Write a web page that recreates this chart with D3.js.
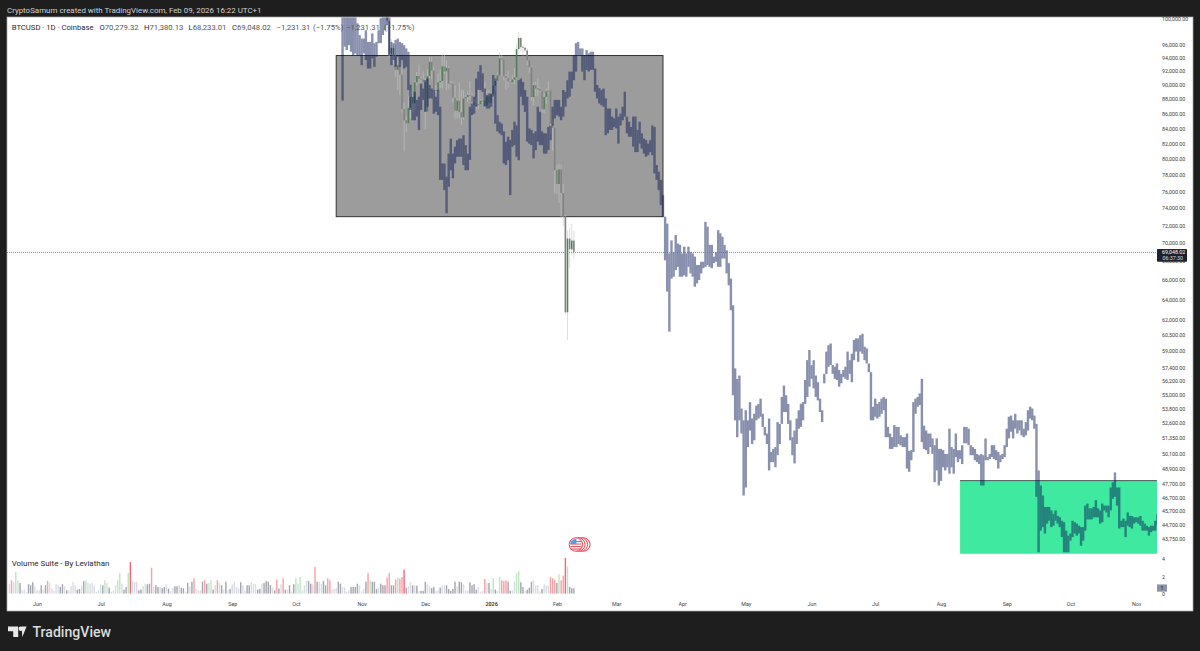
<!DOCTYPE html>
<html>
<head>
<meta charset="utf-8">
<script src="https://cdn.jsdelivr.net/npm/d3@7"></script>
<style>
html, body { margin: 0; padding: 0; background: #1e1e1e; }
text { font-family: Roboto, "Liberation Sans", sans-serif; }
</style>
</head>
<body>
<script>
// Price values are in thousands of USD
var patternStart = "2025-10-23";
var patternHigh = [
100.4,100.4,100.4,100.4,100.4,100.4,100.4,99.3,97.45,96.9,96.9,98.2,96.4,96.4,97.7,96.2,96.4,98.2,100.1,100.35,
100.35,100.35,100.35,96.4,96.2,96.7,96.9,96.4,96.2,95.9,95.4,94.9,90.05,88.35,89.05,87.9,88.35,90.2,89.5,90.7,
90.95,90,89.5,89.3,88.35,89.3,86.95,79.45,79.45,77.8,80.7,82.65,80.7,81.6,82.45,82.65,82.65,83.1,81.8,80.7,
86.95,87.4,88.35,90.95,91.95,92.9,91.7,89.5,88.6,88.8,88.8,91.45,90.95,85.8,84.9,84.65,83.6,82.25,82.9,82.45,
83.8,84.9,84.4,90.7,90.95,90.45,89.3,88.35,84,83.8,83.35,83.6,86.95,86.25,83.6,83.35,83.35,84.2,84.4,86.95,
87.9,87.9,87.9,86.95,89.3,89.05,90.7,91.95,91.95,94.4,96.2,96.4,95.4,95.4,94.4,95.15,94.65,94.9,94.9,92.4,
90,89.55,89.3,89.5,88.1,86.7,86.7,85.6,85.35,86.7,85.6,86,86.95,89.05,85.6,84.9,84.2,85.6,85.6,83.8,
84.9,83.35,82.65,82.45,82,82.45,84.4,84.2,79.25,78.4,77.4,75.55,
73,72.2,68.85,70.3,69,70.9,69.95,69.8,68.85,69.6,68.85,69.6,69,68.85,68.5,67.6,67.6,67.95,
67.95,72.4,71.85,69.8,69.8,68.5,69,71.45,71.1,70.7,69.8,69.2,67.8,66.15,63.4,57.35,56.4,56.7,53.8,52.8,
53.65,52.8,54.35,52.95,53.35,54.05,54.2,54.65,53.35,52.25,51.7,52.95,50.2,50.45,50.6,52.65,52.5,54.8,55.8,54.95,
54.2,52.8,51.4,51.95,52.95,53.65,54.2,54.35,56.3,58.1,59.05,57.65,58.1,56.7,56.1,54.65,53.65,56.85,58.9,59.5,
59.66,57.65,57.5,57.8,57.2,56.85,57.2,57.5,58.9,58.1,58.7,60,60.15,60.15,60.45,60.6,59.35,59.2,57.8,57,
53.95,54.65,54.2,54.35,54.65,54.8,54.65,52.25,51.7,51.4,52.4,52.25,52.25,51.55,51.4,51.4,51.7,50.3,
50.35,54.35,54.65,54.8,55.1,56.4,52.35,51.95,51.7,51.7,51.3,50.75,51.3,50.45,50.45,50.35,50.05,50.05,52.1,
50.6,50.45,51.7,50.35,50.35,50.75,52.25,52.25,52.1,50.75,50.6,50.45,50.05,49.95,50.05,49.95,51.3,49.8,50.05,50.75,
50.75,50.35,50.2,49.95,50.05,50.75,52.1,53.1,53.2,52.8,53.35,52.8,52.8,52.8,52.1,52.65,53.65,53.95,53.8,53.2,
52.5,48.75,47.6,46.85,46,46,46,45.75,45.5,45.75,45.35,45.25,45,44.9,44.3,43.95,44.1,45,44.9,44.8,
44.65,44.55,44.55,46.1,46.25,45.9,45.9,46,46.5,45.9,45.75,46.25,46.1,46.1,46.1,47.45,47.85,48.6,47.45,47.45,
45,45.15,45,45.6,45.35,45.35,45.25,45.25,45.25,45.35,45,44.8,44.65,44.55,44.65,44.65,45,45.5
];
var patternLow = [
87.8,95.67,95.16,95.9,94.9,94.4,94.65,94.4,94.4,92.9,94.65,93.66,92.4,92.4,93.9,92.65,94.15,96.2,96.2,97.45,
98.2,99,94.4,92.9,93.66,92.65,94.15,92.65,93.66,92.4,92.65,89.3,86.5,85.1,85.1,85.6,83.8,86.5,87.9,86.25,
86.95,88.1,88.1,86,86.25,85.8,77.4,77.4,76.15,73.4,76.55,78.6,77.6,79.45,80.3,80.3,80.3,79.25,78.6,78.6,
79.9,85.8,86,86.95,89.3,89.3,89.05,86.95,86.7,86.7,86.95,88.35,84.65,83.6,83.35,83.1,79.45,79.25,79.85,75.55,
81.6,81.8,80.3,79.85,88.35,87.15,86.25,82.25,82,81.8,80.1,81.15,82.25,81.8,81.8,80.7,80.7,81.15,82.45,84.4,
85.35,85.8,85.6,85.1,85.6,86.95,88.1,88.35,89.5,90.7,91.95,94.4,94.4,91.95,90.7,92.2,91.95,92.2,92.2,89.05,
88.1,87.4,87.15,86.95,83.1,83.35,83.8,83.8,84.2,84,82,84.4,85.1,85.6,83.35,82.9,82.9,81.6,80.9,80.9,
82,81.35,80.7,80.3,80.5,80.9,80.5,78.2,77.4,76.15,74.35,72.98,
68.1,64.8,60.8,66.15,66.35,67.05,67.4,66.35,66.35,66.5,66.35,67.4,66.7,66.35,65.3,65.65,66,66.7,
67.25,67.4,67.6,67.4,67.25,67.8,67.95,67.4,67.4,68.3,68.3,66.7,65.45,62.9,54.95,52.8,51.4,52.8,51.7,46.85,
47.45,50.6,51.95,50.85,51.15,52.8,52.95,53.1,52.25,51.55,50.85,48.75,49.4,49.4,49,49.95,50.85,52.5,53.5,53.5,
52.5,51.15,49.95,49.3,50.85,52.1,52.25,52.8,54.2,54.8,55.7,56.4,55.55,54.8,54.5,53.5,52.65,56,56.85,57.5,
57.65,56.85,56.4,56.3,55.7,56,56.55,56.4,56.3,56.85,56.1,58.1,58.9,57.95,58.9,58.7,58.1,57.8,57,52.8,
52.8,53.1,52.95,53.1,53.35,53.65,51.4,51.4,50.45,50.45,50.6,50.6,50.85,50.75,50.6,50.6,48.9,48.65,
49.55,50.2,53.35,53.95,54.1,51,50.45,50.35,50.05,50.6,50.05,47.85,48.75,47.6,47.95,49,48.75,49,48.5,
49,48.5,49.8,49.4,49.65,49.25,50.9,50.9,50.75,49.95,49.95,49.55,49.4,49.25,47.6,47.6,49.55,49.55,49.65,49.8,
49.65,49.55,48.9,49.4,49.65,49.8,50.6,51.3,51.85,51.3,52.1,51.7,51.95,51.55,51.4,51.55,51.95,52.95,52.8,52.1,
46.75,42.8,44.3,44.55,44.1,44.8,45,44.55,44.65,45,44.8,44.55,43.85,42.8,42.8,42.8,43.6,43.85,44.1,43.95,
44.1,43.25,43.6,44.3,45.1,45.1,45.1,45.25,45.25,45.25,44.8,44.9,45.75,45.6,45.25,45.75,46.6,46.75,46.1,44.45,
44.55,44.55,43.85,44.65,44.55,44.45,44.8,44.9,44.8,44.65,44.3,44.3,44.3,43.95,44.2,44.3,44.3,44.65
];

// Daily candles, last close is the one printed in the legend
var candleStart = "2025-11-13";
var candleOpen = [
103.6,99.7,94.5,95.5,94.2,92.2,92.9,91.5,86.6,85.1,84.7,86.8,88.3,87.4,90.4,91.3,90.9,90.8,90.4,86.3,
91.3,93.4,92.1,89.3,89.2,90.4,90.6,92.7,92,92.5,90.2,90.2,88.2,86.4,87.8,86.2,85.5,88.1,88.3,88.6,
88.5,87.6,87.2,87.2,87.3,87.8,87.8,87.1,88.4,87.5,88.7,89.9,90.6,91.4,93.9,93.7,91.3,91,90.5,90.4,
90.8,91.1,95.3,97,95.6,95.5,95.1,93.6,92.6,88.3,90,89.5,89.5,89.2,86.6,88.3,89.1,89.2,84.6,84.1,
78.6,76.9,78.7,75.8,73,62.7,70.5,69.3,70.27932
];
var candleHigh = [
104.1,99.8,96.8,96,96,93.8,93.2,92.9,87.5,85.6,88.4,89.2,88.5,90.6,91.9,93,91.2,92,91,92.3,
94.1,94,92.7,90,91.7,92.3,94.6,94.5,93.6,92.8,90.6,90.5,90,88.2,90.4,89.4,89.3,88.6,89.1,90.6,
88.9,87.9,88,89.5,88,88.1,90.4,89.3,89.3,89,90.9,91,91.8,94.8,94.4,93.5,91.6,92,90.8,91.4,
92.5,96.1,97.9,97.2,96,95.6,95.5,93.4,92.8,90.4,90.5,91,89.8,89.3,88.9,89.5,90.5,89.2,85,84.1,
79.3,79.4,79.3,76.9,73.2,71.4,71.7,72.2,71.38013
];
var candleLow = [
98,94,95,93,91.2,89.3,88.6,86.2,81,83.5,84.7,85.3,86.2,86.4,90,90.2,90.3,90.3,83.9,86.2,
91,90.9,88.2,88.9,87.8,89.6,89.5,91.6,89.3,89.5,89.8,87.6,85.2,85.3,85.3,84.5,85.2,88,87.6,87.9,
86.7,86.4,86.7,86.6,87.3,87.4,86.7,86.8,87,87.1,88.2,89.2,90.5,91.4,91.3,90.7,89.3,89.7,90.3,90.2,
90.1,91,94.6,95,94.3,94.9,92.9,91.8,87.8,87.2,88.4,88.5,88.9,86.1,86.1,87.4,88.8,83.3,81.1,75.7,
75.7,74.6,72.9,71.9,62.5,60,67.3,68.8,68.23301
];
var candleClose = [
99.7,94.5,95.5,94.2,92.2,92.9,91.5,86.6,85.1,84.7,86.8,88.3,87.4,90.4,91.3,90.9,90.8,90.4,86.3,91.3,
93.4,92.1,89.3,89.2,90.4,90.6,92.7,92,92.5,90.2,90.2,88.2,86.4,87.8,86.2,85.5,88.1,88.3,88.6,88.5,
87.6,87.2,87.2,87.3,87.8,87.8,87.1,88.4,87.5,88.7,89.9,90.6,91.4,93.9,93.7,91.3,91,90.5,90.4,90.8,
91.1,95.3,97,95.6,95.5,95.1,93.6,92.6,88.3,90,89.5,89.5,89.2,86.6,88.3,89.1,89.2,84.6,84.1,78.6,
76.9,78.7,75.8,73,62.7,70.5,69.3,70.27932,69.04802
];

var lastPrice = 69.04802;
var lastPriceLabel = "69,048.02";
var countdownLabel = "06:37:30";

// Volume bars, newest last, ending on candle date Feb 9
var volumeEnd = "2026-02-09";
var volumeValues = [
1.15,1.54,1.35,2.5,1.54,1.23,.38,.46,.15,1.08,.96,
1.31,.85,.38,.38,.96,.46,.96,1.46,1.23,.58,
.31,1.08,.96,.77,1.08,.85,.38,.38,.85,1.38,
.96,.46,.54,.96,1.46,1.54,1.23,1.15,1.23,.96,
.19,.46,1.08,.96,1.54,1.23,.69,.23,.38,.96,
1.54,2.38,1.15,.46,.77,2.38,3.65,1.46,1.35,1.35,
.38,.46,.85,1.15,1.08,1.15,3,.77,.96,.77,
.77,.62,.77,1.08,.58,.23,.69,.85,.85,.96,
.69,.62,.23,1.23,.85,1.38,1.77,.54,.38,.38,
1.38,1.54,1.15,1.23,1.54,.46,.96,1.54,1.23,.96,
.46,1.38,.38,.54,1.08,1.38,.77,.62,1.31,.96,
.38,.96,.96,1.31,1.15,1.08,.46,.54,1.15,1.23,
1.46,1.38,1,.69,.38,1.62,.58,1.08,1.77,.46,
.46,.96,.23,1.08,1.77,1.15,1.92,.38,.96,1.46,
1.46,1.15,1.08,3.08,1.38,1.38,1.15,1.46,.96,1.77,
1.54,.46,.54,.69,1.38,1.15,.77,.69,.23,.38,
.77,.77,.77,1.15,.96,.23,.54,1.38,2.38,1.54,
1.38,1.38,.54,.69,1.15,.96,.96,1.85,2.38,.96,
.96,1.62,1.85,1.73,1.92,2.77,.69,.85,1.31,.96,
.96,.92,.31,.31,.31,1.38,1.08,.85,.62,.77,
.31,.38,.69,.96,.96,.96,.54,.31,.54,1.38,
.85,1.38,1.31,1.08,.31,.38,1.31,.96,1.08,.46,
.77,.23,.31,1.69,1.23,1.23,.54,1.77,.46,.31,
1.92,1.54,1.46,1.54,1.38,.31,.38,1.46,2.38,2.62,
1.31,.77,.31,.46,.69,1.38,1.54,.96,.96,.23,
.54,1.08,.96,.92,1.92,1.77,1.62,1.23,2.23,1.54,
2.08,4.12,3.15,.77,.62,.62
];
var volumeKinds = ("u r u g u d u u u d d " +
"d u u u d u d r u u " +
"u u u d d u d u u u " +
"u d d u d g u u u u " +
"u u u d g u d u u u " +
"g g u d d g R u u u " +
"d d u u d d r u d d " +
"u d d u d u u d d u " +
"d d u d u d r u u u " +
"d r d u g d u r u d " +
"u d u d u u u u d u " +
"u d d u u u d d u d " +
"d d d u d r d u r d " +
"u d u d g u g u u u " +
"d d u r d u u d d r " +
"r u u u d d u u u u " +
"d d d d u u u d r g " +
"d d d u d d d r r d " +
"d r g r r R d u u d " +
"u d u d d d u u d d " +
"u u d u u d d d d d " +
"u d d u u u d d d d " +
"u u u r u d u g d u " +
"g r r r d d u u g g " +
"d d u d d d u u u u " +
"d u u u r r r d g r " +
"r R g d d d").split(" ");

var priceTicks = [100000,96000,94000,92000,90000,88000,86000,84000,82000,80000,78000,76000,74000,72000,70000,68000,66000,64000,62000,60500,59000,57400,56200,55000,53800,52600,51350,50100,48900,47700,46700,45700,44700,43750];
var volumeTicks = [4,2,0];
var timeTickDates = ["2025-06-01","2025-07-01","2025-08-01","2025-09-01","2025-10-01","2025-11-01","2025-12-01","2026-01-01","2026-02-01","2026-03-01","2026-04-01","2026-05-01","2026-06-01","2026-07-01","2026-08-01","2026-09-01","2026-10-01","2026-11-01"];
var timeTickLabels = ["Jun","Jul","Aug","Sep","Oct","Nov","Dec","2026","Feb","Mar","Apr","May","Jun","Jul","Aug","Sep","Oct","Nov"];

// Drawn rectangles: start, end, top price, bottom price
var greyBox = ["2025-10-20", "2026-03-23", 94.33, 73.0];
var greenBox = ["2026-08-10", "2026-11-12", 47.97, 42.7];

var width = 1200, height = 651;
var parseDay = d3.utcParse("%Y-%m-%d");

// Scales
var x = d3.scaleUtc().domain([parseDay("2025-06-01"), parseDay("2026-11-01")]).range([37, 1136.2]);
var y = d3.scaleLog().domain([96000, 43750]).range([44.5, 538.5]);
var yVol = d3.scaleLinear().domain([0, 4]).range([593.6, 559]);
var py = function(k) { return y(k * 1000); };

var svg = d3.select("body").append("svg")
    .attr("width", width).attr("height", height)
    .style("display", "block");

// Chart panel
svg.append("rect").attr("x", 7).attr("y", 17).attr("width", 1186).attr("height", 594)
    .attr("fill", "#ffffff").attr("stroke", "#a8a8a8").attr("stroke-width", 0.7);
svg.append("defs").append("clipPath").attr("id", "pane")
    .append("rect").attr("x", 7).attr("y", 17.5).attr("width", 1150).attr("height", 580);
var pane = svg.append("g").attr("clip-path", "url(#pane)");

// Green box first, pattern is laid over it
pane.append("rect")
    .attr("x", x(parseDay(greenBox[0])))
    .attr("y", py(greenBox[2]))
    .attr("width", x(parseDay(greenBox[1])) - x(parseDay(greenBox[0])))
    .attr("height", py(greenBox[3]) - py(greenBox[2]))
    .attr("fill", "#40e9a0");
pane.append("line")
    .attr("x1", x(parseDay(greenBox[0]))).attr("x2", x(parseDay(greenBox[1])))
    .attr("y1", py(greenBox[2])).attr("y2", py(greenBox[2]))
    .attr("stroke", "#3c4a4a").attr("stroke-width", 0.9);

// Grey box
pane.append("rect")
    .attr("x", x(parseDay(greyBox[0])))
    .attr("y", py(greyBox[2]))
    .attr("width", x(parseDay(greyBox[1])) - x(parseDay(greyBox[0])))
    .attr("height", py(greyBox[3]) - py(greyBox[2]))
    .attr("fill", "#9c9c9c").attr("stroke", "#333333").attr("stroke-width", 1);

// Real candles
var candleDays = candleClose.map(function(d, i) { return d3.utcDay.offset(parseDay(candleStart), i); });
var candles = pane.append("g");
candles.selectAll("line").data(candleClose).enter().append("line")
    .attr("x1", function(d, i) { return x(candleDays[i]); })
    .attr("x2", function(d, i) { return x(candleDays[i]); })
    .attr("y1", function(d, i) { return py(candleHigh[i]); })
    .attr("y2", function(d, i) { return py(candleLow[i]); })
    .attr("stroke", "rgba(200,200,200,0.6)").attr("stroke-width", 1);
candles.selectAll("rect").data(candleClose).enter().append("rect")
    .attr("x", function(d, i) { return x(candleDays[i]) - 0.8; })
    .attr("width", 1.6)
    .attr("y", function(d, i) { return py(Math.max(candleOpen[i], d)); })
    .attr("height", function(d, i) { return Math.max(0.8, py(Math.min(candleOpen[i], d)) - py(Math.max(candleOpen[i], d))); })
    .attr("fill", function(d, i) { return d >= candleOpen[i] ? "#55805a" : "#828282"; });

// Bars pattern, single group so the overlaps do not darken
var pattern = pane.append("g").attr("opacity", 0.465);
pattern.selectAll("rect").data(patternHigh).enter().append("rect")
    .attr("x", function(d, i) { return x(d3.utcDay.offset(parseDay(patternStart), i)) - 1.2; })
    .attr("width", 2.4)
    .attr("y", function(d) { return py(d); })
    .attr("height", function(d, i) { return py(patternLow[i]) - py(d); })
    .attr("fill", "rgb(4,20,82)");

// Volume
var volColor = { u: "#dadce5", d: "#a3a5af", r: "#fb9fa6", R: "#fb6272", g: "#bde6c1" };
var volDays = volumeValues.map(function(d, i) { return d3.utcDay.offset(parseDay(volumeEnd), i - volumeValues.length + 1); });
pane.append("g").selectAll("rect").data(volumeValues).enter().append("rect")
    .attr("x", function(d, i) { return x(volDays[i]) - 0.7; })
    .attr("width", 1.4)
    .attr("y", function(d) { return yVol(d); })
    .attr("height", function(d) { return yVol(0) - yVol(d); })
    .attr("fill", function(d, i) { return volColor[volumeKinds[i]]; });

// Last price dotted line
svg.append("line").attr("x1", 7).attr("x2", 1157)
    .attr("y1", py(lastPrice) + 0.8).attr("y2", py(lastPrice) + 0.8)
    .attr("stroke", "#777").attr("stroke-width", 0.8).attr("stroke-dasharray", "1 1");

// Event flag
var flagX = x(candleDays[candleDays.length - 1]) + 2, flagY = 544.5;
var flag = svg.append("g");
[7.5, 5, 2.5, 0].forEach(function(off) {
    flag.append("circle").attr("cx", flagX + off).attr("cy", flagY).attr("r", 6.7)
        .attr("fill", "#fff").attr("stroke", "#ee3b4a").attr("stroke-width", 1);
});
[-3.5, -1, 1.5, 4].forEach(function(off) {
    flag.append("rect").attr("x", flagX - 5.5).attr("y", flagY + off).attr("width", 11).attr("height", 1.1).attr("fill", "#ee5560");
});
flag.append("path")
    .attr("d", "M" + (flagX - 5.6) + " " + (flagY - 0.4) + "A5.7 5.7 0 0 1 " + (flagX + 0.6) + " " + (flagY - 5.6) + "V" + (flagY - 0.4) + "Z")
    .attr("fill", "#4f9ee8");

// Price axis
var priceAxis = svg.append("g").attr("transform", "translate(1157,0)")
    .call(d3.axisRight(y).tickValues(priceTicks).tickSize(0).tickPadding(5).tickFormat(d3.format(",.2f")));
priceAxis.select(".domain").remove();
priceAxis.selectAll("text").attr("font-size", 5.3).attr("fill", "#3a3a3a").style("font-family", "Roboto");

// Volume axis
var volAxis = svg.append("g").attr("transform", "translate(1157,0)")
    .call(d3.axisRight(yVol).tickValues(volumeTicks).tickSize(0).tickPadding(5).tickFormat(d3.format("d")));
volAxis.select(".domain").remove();
volAxis.selectAll("text").attr("font-size", 5.3).attr("fill", "#3a3a3a").style("font-family", "Roboto");

// Last volume badge
var lastVol = volumeValues[volumeValues.length - 1];
svg.append("rect").attr("x", 1157).attr("y", yVol(lastVol) - 3.8).attr("width", 10).attr("height", 7.2).attr("fill", "#8d91a1");
svg.append("text").attr("x", 1162).attr("y", yVol(lastVol) + 1.9).attr("font-size", 5.3)
    .attr("text-anchor", "middle").attr("fill", "#222").text(d3.format("d")(Math.round(lastVol)));

// Last price label
svg.append("rect").attr("x", 1157).attr("y", 249).attr("width", 30).attr("height", 12.8).attr("fill", "#1e222d").attr("rx", 0.8);
svg.append("text").attr("x", 1162).attr("y", 254.2).attr("font-size", 5.3).attr("fill", "#fff").text(lastPriceLabel);
svg.append("text").attr("x", 1162.5).attr("y", 260.4).attr("font-size", 5.3).attr("fill", "#ddd").text(countdownLabel);

// Time axis
var timeAxis = svg.append("g").attr("transform", "translate(0,597)")
    .call(d3.axisBottom(x).tickValues(timeTickDates.map(parseDay)).tickSize(0).tickPadding(5.5)
        .tickFormat(function(d, i) { return timeTickLabels[i]; }));
timeAxis.select(".domain").remove();
timeAxis.selectAll("text").attr("font-size", 5.4).attr("fill", "#444").style("font-family", "Roboto")
    .attr("font-weight", function(d, i) { return timeTickLabels[i] === "2026" ? 700 : 400; });

// Header and legends
svg.append("text").attr("x", 7).attr("y", 12.5).attr("font-size", 7.93).attr("fill", "#d2d2d2")
    .text("CryptoSamum created with TradingView.com, Feb 09, 2026 16:22 UTC+1");
svg.append("text").attr("x", 11.7).attr("y", 30).attr("font-size", 7.7).attr("fill", "#2a2a2a")
    .text("BTCUSD · 1D · Coinbase");
var legendParts = [
    [99.5, "O", "70,279.32"], [144, "H", "71,380.13"], [188.5, "L", "68,233.01"], [232, "C", "69,048.02"],
    [276.5, "", "−1,231.31"], [313, "", "(−1.75%)"], [346, "", "−1,231.31"], [384, "", "(−1.75%)"]
];
legendParts.forEach(function(p) {
    var t = svg.append("text").attr("x", p[0]).attr("y", 30).attr("font-size", 7.7).attr("fill", "#555");
    if (p[1]) t.append("tspan").attr("fill", "#2a2a2a").text(p[1]);
    t.append("tspan").text(p[2]);
});
svg.append("text").attr("x", 11.7).attr("y", 566).attr("font-size", 7.95).attr("fill", "#2a2a2a")
    .text("Volume Suite - By Leviathan");

// TradingView logo
svg.append("path").attr("fill", "#e8e8e8")
    .attr("d", "M8 626.5H18.2V637H13.2V631.2H8Z M22.3 637L26.6 626.5H21.6Z");
svg.append("circle").attr("cx", 20.8).attr("cy", 628.7).attr("r", 2.2).attr("fill", "#e8e8e8");
svg.append("text").attr("x", 32.5).attr("y", 636.5).attr("font-size", 14.1).attr("font-weight", 500)
    .attr("fill", "#dcdcdc").text("TradingView");
</script>
</body>
</html>
